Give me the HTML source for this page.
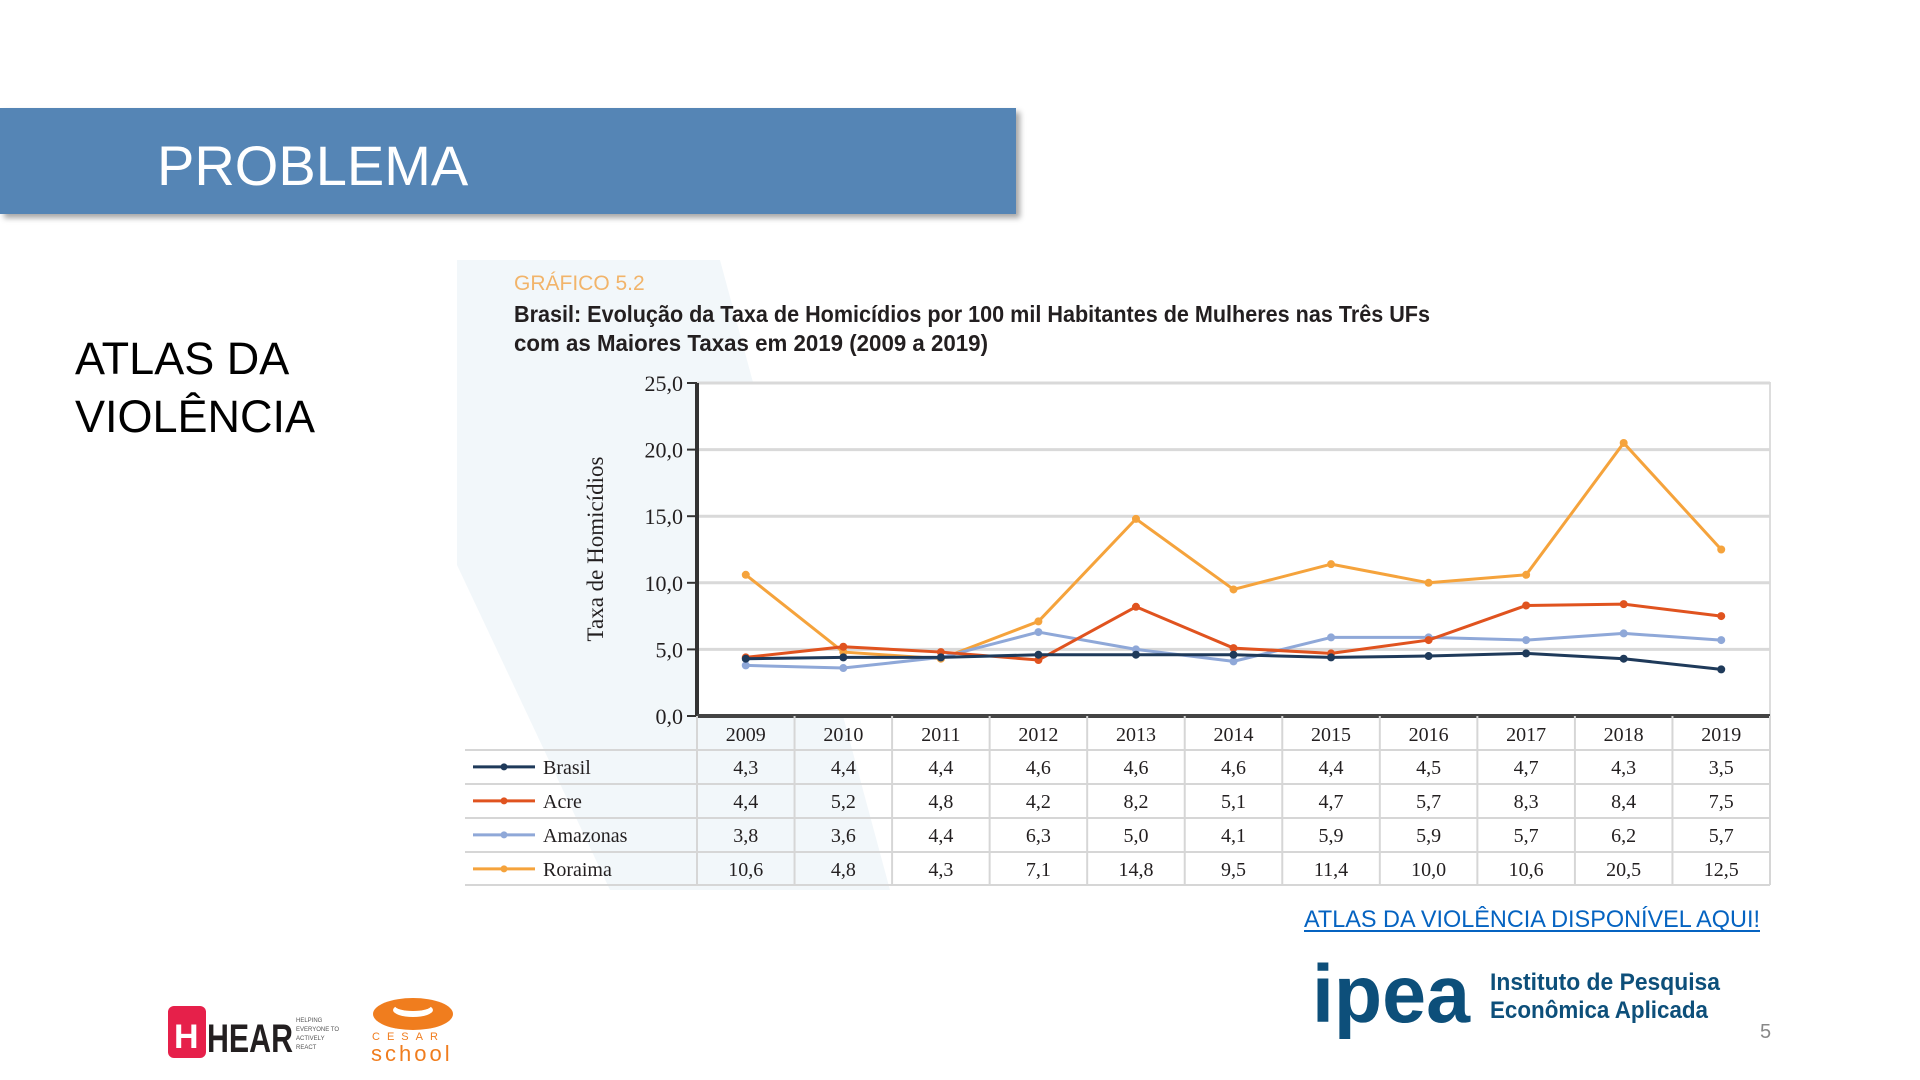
<!DOCTYPE html>
<html><head><meta charset="utf-8">
<style>
html,body{margin:0;padding:0;background:#fff;}
body{width:1920px;height:1080px;overflow:hidden;position:relative;font-family:"Liberation Sans",sans-serif;}
svg{position:absolute;left:0;top:0;}
</style></head>
<body>
<svg id="s" width="1920" height="1080" viewBox="0 0 1920 1080" xmlns="http://www.w3.org/2000/svg">
  <defs>
    <filter id="sh" x="-5%" y="-20%" width="110%" height="150%"><feDropShadow dx="4" dy="4" stdDeviation="3" flood-color="#000" flood-opacity="0.35"/></filter>
  </defs>
  <rect x="0" y="108" width="1016" height="106" fill="#5585b5" filter="url(#sh)"/>
  <text x="157" y="185" font-family="Liberation Sans, sans-serif" font-size="56" fill="#fff">PROBLEMA</text>
  <text x="75" y="374" font-family="Liberation Sans, sans-serif" font-size="45" fill="#000">ATLAS DA</text>
  <text x="75" y="432" font-family="Liberation Sans, sans-serif" font-size="45" fill="#000">VIOLÊNCIA</text>

  <polygon points="457,260 720,260 890,890 610,890 457,565" fill="#f2f7fa"/>

  <text x="514" y="290" font-family="Liberation Sans Narrow, Liberation Sans, sans-serif" font-size="21" fill="#f2b46a">GRÁFICO 5.2</text>
  <text x="514" y="322" font-family="Liberation Sans Narrow, Liberation Sans, sans-serif" font-weight="bold" font-size="23" fill="#231f20" textLength="916" lengthAdjust="spacingAndGlyphs">Brasil: Evolução da Taxa de Homicídios por 100 mil Habitantes de Mulheres nas Três UFs</text>
  <text x="514" y="351" font-family="Liberation Sans Narrow, Liberation Sans, sans-serif" font-weight="bold" font-size="23" fill="#231f20" textLength="474" lengthAdjust="spacingAndGlyphs">com as Maiores Taxas em 2019 (2009 a 2019)</text>

  <text transform="translate(603,549) rotate(-90)" text-anchor="middle" font-family="Liberation Serif, serif" font-size="23" fill="#231f20">Taxa de Homicídios</text>

  <g id="chart"></g>

  <text x="1304" y="927" font-family="Liberation Sans, sans-serif" font-size="24" fill="#0563c1" textLength="456" lengthAdjust="spacingAndGlyphs">ATLAS DA VIOLÊNCIA DISPONÍVEL AQUI!</text>
  <line x1="1304" y1="931" x2="1760" y2="931" stroke="#0563c1" stroke-width="2"/>

  <g>
    <text x="1312" y="1022" font-family="Liberation Sans, sans-serif" font-weight="bold" font-size="82" fill="#0d4f7a" textLength="158" lengthAdjust="spacingAndGlyphs">ipea</text>
    <text x="1490" y="990" font-family="Liberation Sans Narrow, Liberation Sans, sans-serif" font-weight="bold" font-size="24" fill="#0d4f7a" textLength="230" lengthAdjust="spacingAndGlyphs">Instituto de Pesquisa</text>
    <text x="1490" y="1018" font-family="Liberation Sans Narrow, Liberation Sans, sans-serif" font-weight="bold" font-size="24" fill="#0d4f7a" textLength="218" lengthAdjust="spacingAndGlyphs">Econômica Aplicada</text>
  </g>
  <text x="1760" y="1038" font-family="Liberation Sans, sans-serif" font-size="20" fill="#888">5</text>

  <g>
    <rect x="168" y="1006" width="38" height="52" rx="6" fill="#e6204a"/>
    <text x="174" y="1048" font-family="Liberation Sans, sans-serif" font-weight="bold" font-size="34" fill="#fff">H</text>
    <text x="207" y="1052" font-family="Liberation Sans Narrow, Liberation Sans, sans-serif" font-weight="bold" font-size="40" fill="#231f20" textLength="86" lengthAdjust="spacingAndGlyphs">HEAR</text>
    <text x="296" y="1022" font-family="Liberation Sans, sans-serif" font-size="6" fill="#555">HELPING</text>
    <text x="296" y="1031" font-family="Liberation Sans, sans-serif" font-size="6" fill="#555">EVERYONE TO</text>
    <text x="296" y="1040" font-family="Liberation Sans, sans-serif" font-size="6" fill="#555">ACTIVELY</text>
    <text x="296" y="1049" font-family="Liberation Sans, sans-serif" font-size="6" fill="#555">REACT</text>
  </g>
  <g>
    <ellipse cx="413" cy="1014" rx="40" ry="16" fill="#f07d1e"/>
    <ellipse cx="413" cy="1010" rx="20" ry="7" fill="#fff"/>
    <ellipse cx="413" cy="1006" rx="18" ry="5" fill="#f07d1e"/>
    <text x="372" y="1040" font-family="Liberation Sans, sans-serif" font-size="11" fill="#f07d1e" letter-spacing="7">CESAR</text>
    <text x="371" y="1061" font-family="Liberation Sans, sans-serif" font-size="22" fill="#f07d1e" letter-spacing="3">school</text>
  </g>
</svg>
<script>
const years = ["2009","2010","2011","2012","2013","2014","2015","2016","2017","2018","2019"];
const seriesNames = ["Brasil","Acre","Amazonas","Roraima"];
const brasil = [4.3,4.4,4.4,4.6,4.6,4.6,4.4,4.5,4.7,4.3,3.5];
const acre = [4.4,5.2,4.8,4.2,8.2,5.1,4.7,5.7,8.3,8.4,7.5];
const amazonas = [3.8,3.6,4.4,6.3,5.0,4.1,5.9,5.9,5.7,6.2,5.7];
const roraima = [10.6,4.8,4.3,7.1,14.8,9.5,11.4,10.0,10.6,20.5,12.5];
const yTicks = [0,5,10,15,20,25];
const colors = ["#1f3a5a","#e0531f","#8fa8d8","#f5a33c"];

const NS = "http://www.w3.org/2000/svg";
const g = document.getElementById('chart');
const X0 = 697, X1 = 1770, Y0 = 716, Y1 = 383, LX = 465;
const colW = (X1 - X0) / years.length;
const xs = i => X0 + colW * (i + 0.5);
const ys = v => Y0 - (v / 25) * (Y0 - Y1);
function mk(tag, attrs, parent) {
  const e = document.createElementNS(NS, tag);
  for (const k in attrs) e.setAttribute(k, attrs[k]);
  (parent || g).appendChild(e);
  return e;
}
const fmt = v => v.toFixed(1).replace('.', ',');

let e = mk('rect', {x: X0, y: Y1, width: X1 - X0, height: Y0 - Y1, fill: '#fff', stroke: '#ddd', 'stroke-width': 2});


yTicks.forEach(t => {
  const y = ys(t);
  if (t > 0) {
    const gl = mk('line', {x1: X0, x2: X1, y1: y, y2: y, stroke: '#d9d9d9', 'stroke-width': 3});
    
    
  }
  mk('line', {x1: X0 - 10, x2: X0, y1: y, y2: y, stroke: '#333', 'stroke-width': 2});
  const tl = mk('text', {x: X0 - 14, y: y + 8, 'text-anchor': 'end', 'font-family': 'Liberation Serif, serif', 'font-size': 22, fill: '#231f20'});
  tl.textContent = fmt(t);
  
  
});
mk('line', {x1: X0, x2: X0, y1: Y1, y2: Y0, stroke: '#333', 'stroke-width': 4});
mk('line', {x1: X0, x2: X1, y1: Y0, y2: Y0, stroke: '#444', 'stroke-width': 4});

const rowTops = [750, 784, 818, 852];
const rowH = 33.7;
years.forEach((yr, i) => {
  const t = mk('text', {x: xs(i), y: 741, 'text-anchor': 'middle', 'font-family': 'Liberation Serif, serif', 'font-size': 20, fill: '#231f20'});
  t.textContent = yr;
  
  
});
for (let i = 0; i <= years.length; i++) {
  const x = X0 + colW * i;
  mk('line', {x1: x, x2: x, y1: Y0, y2: 885, stroke: '#d6d6d6', 'stroke-width': 2});
}
[750, 784, 818, 852, 885].forEach(y => mk('line', {x1: LX, x2: X1, y1: y, y2: y, stroke: '#d6d6d6', 'stroke-width': 2}));

const all = [brasil, acre, amazonas, roraima];
const ids = ['brasil', 'acre', 'amazonas', 'roraima'];
all.forEach((vals, s) => {
  const cy = rowTops[s] + rowH / 2;
  mk('line', {x1: 473, x2: 535, y1: cy, y2: cy, stroke: colors[s], 'stroke-width': 3});
  mk('circle', {cx: 504, cy: cy, r: 3.5, fill: colors[s]});
  const ln = mk('text', {x: 543, y: cy + 7, 'font-family': 'Liberation Serif, serif', 'font-size': 20, fill: '#231f20'});
  ln.textContent = seriesNames[s];
  
  
  vals.forEach((v, i) => {
    const c = mk('text', {x: xs(i), y: cy + 7, 'text-anchor': 'middle', 'font-family': 'Liberation Serif, serif', 'font-size': 20, fill: '#231f20'});
    c.textContent = fmt(v);
    
    
  });
});

[3, 2, 1, 0].forEach(s => {
  const vals = all[s];
  const p = mk('polyline', {points: vals.map((v, i) => xs(i) + ',' + ys(v)).join(' '), fill: 'none', stroke: colors[s], 'stroke-width': 3, 'stroke-linejoin': 'round'});
  
  
  vals.forEach((v, i) => {
    const c = mk('circle', {cx: xs(i), cy: ys(v), r: 4, fill: colors[s]});
    
    
  });
});
</script>
</body></html>
